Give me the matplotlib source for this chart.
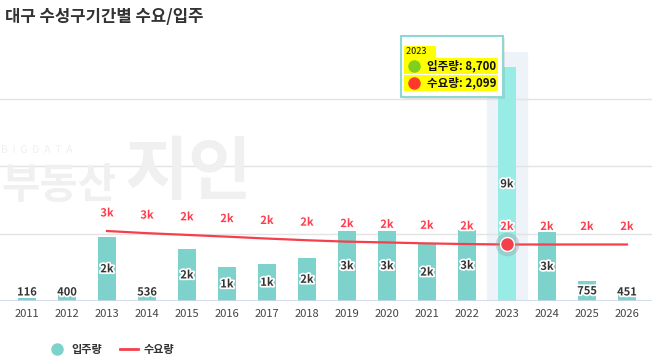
import numpy as np
import matplotlib.pyplot as plt
from matplotlib.lines import Line2D
from matplotlib.patches import Rectangle
import matplotlib.patheffects as pe

plt.rcParams['font.family'] = ['Noto Sans CJK KR', 'DejaVu Sans']

# 데이터
years = ["2011", "2012", "2013", "2014", "2015", "2016", "2017", "2018",
         "2019", "2020", "2021", "2022", "2023", "2024", "2025", "2026"]
supply = [116, 400, 2390, 536, 1934, 1265, 1388, 1611,
          2615, 2615, 2146, 2652, 8700, 2567, 755, 451]
demand = [None, None, 2600, 2520, 2455, 2390, 2320, 2257,
          2205, 2175, 2140, 2115, 2099, 2099, 2099, 2099]
hover_idx = 12

bar_color = "#7dd3cb"
hover_bar_color = "#98ece6"
line_color = "#f5404c"
label_red = "#ff3b4e"

W, H = 652, 360
fig = plt.figure(figsize=(W / 100, H / 100), dpi=100)
ax = fig.add_axes([0, 59 / H, 1, (301 - 52) / H])
ax.set_facecolor("none")

x = np.arange(len(years))
ymax = 9250

# 워터마크
wm = "#f0f0f0"
fig.text(1 / W, 1 - 150 / H, "B  I  G  D  A  T  A", fontsize=7.5, color=wm,
         va="center", ha="left", zorder=0)
fig.text(1 / W, 1 - 186 / H, "부동산", fontsize=30, color=wm, fontweight="bold",
         va="center", ha="left", zorder=0)
fig.text(125 / W, 1 - 174 / H, "지인", fontsize=50, color=wm, fontweight="bold",
         va="center", ha="left", zorder=0)

# hover 밴드
ax.axvspan(hover_idx - 0.5, hover_idx + 0.5, color="#eef2f9", zorder=0)

for yv in [2500, 5000, 7500]:
    ax.axhline(yv, color="#e3e3e3", lw=1, zorder=0.5)
ax.axhline(0, color="#ccd6eb", lw=1.2, zorder=3)

colors = [hover_bar_color if i == hover_idx else bar_color for i in range(len(years))]
ax.bar(x, supply, width=0.45, color=colors, zorder=2)

outline = [pe.withStroke(linewidth=2.5, foreground="white")]


def fmt(v):
    return f"{round(v / 1000)}k" if v >= 1000 else str(v)


for i, v in enumerate(supply):
    ax.text(i, max(v / 2, 335), fmt(v), ha="center", va="center", fontsize=8,
            fontweight="bold", color="#333333", path_effects=outline, zorder=5)

dx = [i for i, d in enumerate(demand) if d is not None]
dy = [demand[i] for i in dx]
ax.plot(dx, dy, color=line_color, lw=1.6, zorder=4)
for i, d in zip(dx, dy):
    ax.annotate(fmt(d), (i, d), xytext=(0, 13), textcoords="offset points",
                ha="center", va="center", fontsize=8, fontweight="bold",
                color=label_red, path_effects=outline, zorder=6)

# hover 마커
ax.plot(hover_idx, demand[hover_idx], "o", ms=17, color="#999999", alpha=0.35,
        mec="none", zorder=5)
ax.plot(hover_idx, demand[hover_idx], "o", ms=10, color=line_color, mec="white",
        mew=1, zorder=6)

ax.set_xlim(-27 / 40, -27 / 40 + W / 40)
ax.set_ylim(0, ymax)
ax.set_xticks(x)
ax.set_xticklabels(years, fontsize=8, color="#444444")
ax.set_yticks([])
ax.tick_params(axis="x", length=0, pad=6)
for s in ax.spines.values():
    s.set_visible(False)

# 제목
fig.text(5 / W, 1 - 17 / H, "대구 수성구기간별 수요/입주", fontsize=12,
         fontweight="bold", color="#333333", va="center", ha="left")

# 범례
handles = [Line2D([], [], marker="o", ls="none", color=bar_color, ms=8),
           Line2D([], [], color=line_color, lw=2)]
fig.legend(handles, ["입주량", "수요량"], loc="center left",
           bbox_to_anchor=(38 / W, 1 - 349 / H), ncol=2, frameon=False,
           prop={"size": 8, "weight": "bold"}, handlelength=1.6,
           handletextpad=0.5, columnspacing=1.6, labelcolor="#333333")

# 툴팁
tx0, ty0, tx1, ty1 = 401, 36, 503, 97
fig.add_artist(Rectangle(((tx0 + 2) / W, 1 - (ty1 + 2) / H), (tx1 - tx0) / W,
                         (ty1 - ty0) / H, transform=fig.transFigure,
                         facecolor="#000000", alpha=0.08, edgecolor="none", zorder=9))
fig.add_artist(Rectangle((tx0 / W, 1 - ty1 / H), (tx1 - tx0) / W, (ty1 - ty0) / H,
                         transform=fig.transFigure, facecolor="white",
                         edgecolor="#8ed8d1", lw=1.5, zorder=10))
fig.text(406 / W, 1 - 52 / H, "2023    ", fontsize=6.5, color="#111111",
         va="center", ha="left", zorder=11,
         bbox=dict(facecolor="#ffff00", edgecolor="none", pad=1.2))
rows = [("입주량", supply[hover_idx], "#7fcf1c", 66),
        ("수요량", demand[hover_idx], "#ff3a2a", 83)]
for name, val, c, yy in rows:
    fig.text(406 / W, 1 - yy / H, f"        {name}: {val:,}", fontsize=8.3,
             fontweight="bold", color="#111111", va="center", ha="left", zorder=11,
             bbox=dict(facecolor="#ffff00", edgecolor="none", pad=1.2))
    fig.add_artist(Line2D([414 / W], [1 - yy / H], marker="o", ms=9, color=c,
                          mec="none", ls="none", transform=fig.transFigure,
                          zorder=12))

fig.savefig("out.png", dpi=100)
